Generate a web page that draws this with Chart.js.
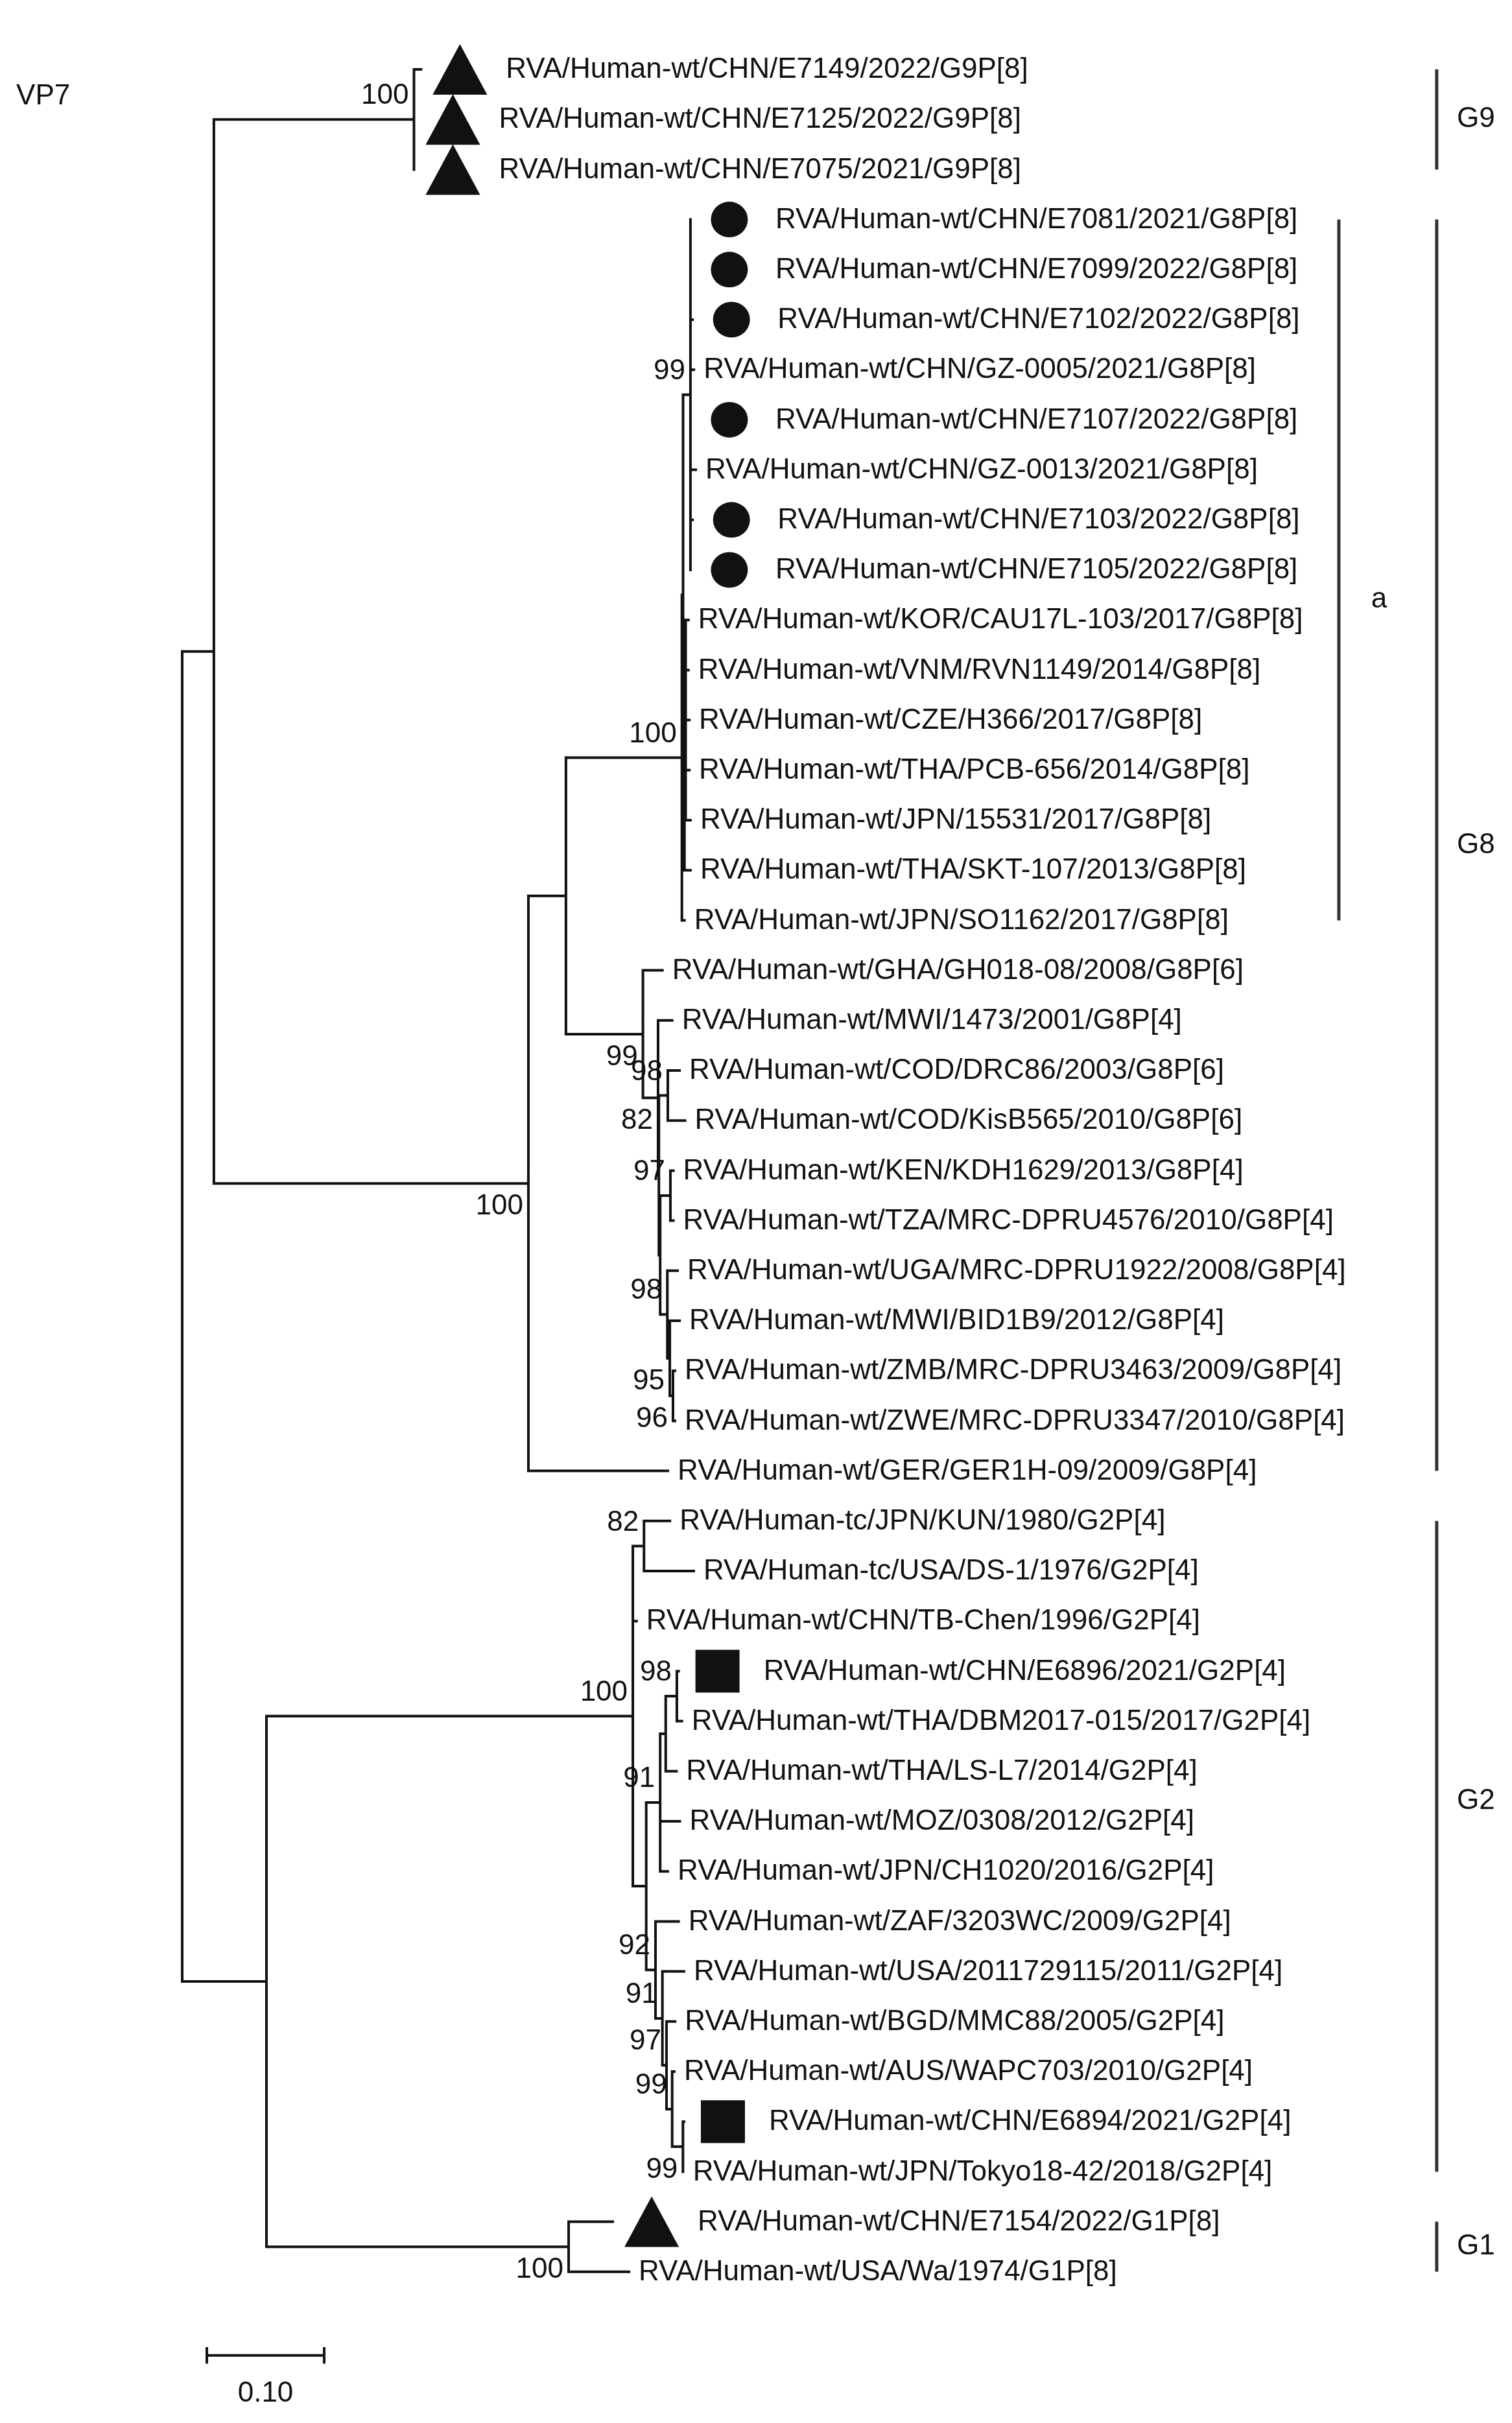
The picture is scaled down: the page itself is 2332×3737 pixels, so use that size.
<!DOCTYPE html>
<html>
<head>
<meta charset="utf-8">
<title>VP7 tree</title>
<script src="https://cdn.jsdelivr.net/npm/chart.js@4.4.0/dist/chart.umd.min.js"></script>
<style>
  html, body { margin: 0; padding: 0; background: #fff; }
  canvas { display: block; }
</style>
</head>
<body>
<canvas id="vp7-tree" width="2332" height="3737"></canvas>
<script>
//
// VP7 tree
//

// Leaves, top to bottom (row = index + 1)
var leafNames = [
	'RVA/Human-wt/CHN/E7149/2022/G9P[8]',
	'RVA/Human-wt/CHN/E7125/2022/G9P[8]',
	'RVA/Human-wt/CHN/E7075/2021/G9P[8]',
	'RVA/Human-wt/CHN/E7081/2021/G8P[8]',
	'RVA/Human-wt/CHN/E7099/2022/G8P[8]',
	'RVA/Human-wt/CHN/E7102/2022/G8P[8]',
	'RVA/Human-wt/CHN/GZ-0005/2021/G8P[8]',
	'RVA/Human-wt/CHN/E7107/2022/G8P[8]',
	'RVA/Human-wt/CHN/GZ-0013/2021/G8P[8]',
	'RVA/Human-wt/CHN/E7103/2022/G8P[8]',
	'RVA/Human-wt/CHN/E7105/2022/G8P[8]',
	'RVA/Human-wt/KOR/CAU17L-103/2017/G8P[8]',
	'RVA/Human-wt/VNM/RVN1149/2014/G8P[8]',
	'RVA/Human-wt/CZE/H366/2017/G8P[8]',
	'RVA/Human-wt/THA/PCB-656/2014/G8P[8]',
	'RVA/Human-wt/JPN/15531/2017/G8P[8]',
	'RVA/Human-wt/THA/SKT-107/2013/G8P[8]',
	'RVA/Human-wt/JPN/SO1162/2017/G8P[8]',
	'RVA/Human-wt/GHA/GH018-08/2008/G8P[6]',
	'RVA/Human-wt/MWI/1473/2001/G8P[4]',
	'RVA/Human-wt/COD/DRC86/2003/G8P[6]',
	'RVA/Human-wt/COD/KisB565/2010/G8P[6]',
	'RVA/Human-wt/KEN/KDH1629/2013/G8P[4]',
	'RVA/Human-wt/TZA/MRC-DPRU4576/2010/G8P[4]',
	'RVA/Human-wt/UGA/MRC-DPRU1922/2008/G8P[4]',
	'RVA/Human-wt/MWI/BID1B9/2012/G8P[4]',
	'RVA/Human-wt/ZMB/MRC-DPRU3463/2009/G8P[4]',
	'RVA/Human-wt/ZWE/MRC-DPRU3347/2010/G8P[4]',
	'RVA/Human-wt/GER/GER1H-09/2009/G8P[4]',
	'RVA/Human-tc/JPN/KUN/1980/G2P[4]',
	'RVA/Human-tc/USA/DS-1/1976/G2P[4]',
	'RVA/Human-wt/CHN/TB-Chen/1996/G2P[4]',
	'RVA/Human-wt/CHN/E6896/2021/G2P[4]',
	'RVA/Human-wt/THA/DBM2017-015/2017/G2P[4]',
	'RVA/Human-wt/THA/LS-L7/2014/G2P[4]',
	'RVA/Human-wt/MOZ/0308/2012/G2P[4]',
	'RVA/Human-wt/JPN/CH1020/2016/G2P[4]',
	'RVA/Human-wt/ZAF/3203WC/2009/G2P[4]',
	'RVA/Human-wt/USA/2011729115/2011/G2P[4]',
	'RVA/Human-wt/BGD/MMC88/2005/G2P[4]',
	'RVA/Human-wt/AUS/WAPC703/2010/G2P[4]',
	'RVA/Human-wt/CHN/E6894/2021/G2P[4]',
	'RVA/Human-wt/JPN/Tokyo18-42/2018/G2P[4]',
	'RVA/Human-wt/CHN/E7154/2022/G1P[8]',
	'RVA/Human-wt/USA/Wa/1974/G1P[8]'
];

// Distance from root to each leaf tip
var leafTips = [
	0.2035, 0.1975, 0.1975,
	0.4331, 0.4331, 0.4349, 0.4360, 0.4331, 0.4376, 0.4349, 0.4331,
	0.4314, 0.4314, 0.4321, 0.4321, 0.4331, 0.4331, 0.4280,
	0.4092, 0.4175, 0.4238, 0.4285, 0.4185, 0.4185, 0.4221, 0.4238, 0.4199, 0.4199,
	0.4138,
	0.4156, 0.4359, 0.3871, 0.4230, 0.4258, 0.4212, 0.4240, 0.4138,
	0.4230, 0.4276, 0.4200, 0.4193, 0.4276, 0.4270,
	0.3669, 0.3807
];

// Study strains: tri = G9/G1, dot = G8, sq = G2
var leafMarkers = [
	'tri', 'tri', 'tri',
	'dot', 'dot', 'dot', '', 'dot', '', 'dot', 'dot',
	'', '', '', '', '', '', '',
	'', '', '', '', '', '', '', '', '', '',
	'',
	'', '', '', 'sq', '', '', '', '',
	'', '', '', '', 'sq', '',
	'tri', ''
];

// Internal nodes: numbers are leaf rows, strings are other nodes
var nodeNames = ['root', 'U', 'G9', 'G8', 'S', 'a', 'a1', 'c99', 'Q', 'Q1',
	'afr', 'B', 'C', 'cod', 'D', 'kt', 'E', 'F', 'Gn',
	'GG', 'G2', 'n82', 'L', 'n91', 'X', 'n98', 'n92', 'n91b', 'n97', 'n99a', 'n99b', 'G1'];

var nodeDist = [0, 0.027, 0.1975, 0.295, 0.327, 0.4258, 0.4268, 0.4331, 0.4280, 0.4290,
	0.3926, 0.4055, 0.4062, 0.4138, 0.4073, 0.4160, 0.4134, 0.4155, 0.4182,
	0.0718, 0.3840, 0.3935, 0.3954, 0.4073, 0.4120, 0.4215, 0.4033, 0.4092, 0.4127, 0.4175, 0.4267, 0.3293];

var nodeKids = [
	['U', 'GG'], ['G9', 'G8'], [1, 2, 3], ['S', 29], ['a', 'afr'],
	['a1', 18], ['c99', 'Q'], [4, 5, 6, 7, 8, 9, 10, 11], ['Q1', 17], [12, 13, 14, 15, 16],
	[19, 'B'], [20, 'C'], ['cod', 'D'], [21, 22], ['kt', 'E'], [23, 24], [25, 'F'], [26, 'Gn'], [27, 28],
	['G2', 'G1'], ['n82', 32, 'L'], [30, 31], ['n91', 'n92'], ['X', 36, 37], ['n98', 35], [33, 34],
	[38, 'n91b'], [39, 'n97'], [40, 'n99a'], [41, 'n99b'], [42, 43], [44, 45]
];

// Bootstrap values (0 = not shown)
var nodeSupport = [0, 0, 100, 100, 0, 100, 0, 99, 0, 0,
	99, 82, 0, 98, 0, 97, 98, 95, 96,
	0, 100, 82, 0, 91, 0, 98, 92, 91, 97, 99, 99, 100];

// Bootstrap values printed under the branch instead of above it
var supportBelow = ['G8', 'afr', 'B', 'F', 'Gn', 'n99b', 'G1'];

// Genotype / lineage bars on the right
var cladeNames = ['G9', 'G8', 'a', 'G2', 'G1'];
var cladeFirst = [1, 4, 4, 30, 44];
var cladeLast = [3, 29, 18, 43, 45];
var cladeLabelRow = [2, 16.5, 11.6, 35.6, 44.5];
var cladeInner = [false, false, true, false, false];

var scaleBarLength = 0.10;
var scaleBarLabel = '0.10';
var treeTitle = 'VP7';


//
// Methods
//

var FONT = '44px "Liberation Sans", Arial, sans-serif';
var INK = '#111';

function nodeIndex(ref) {
	return nodeNames.indexOf(ref);
}

function rowOf(ref) {
	if (typeof ref === 'number') return ref;
	var kids = nodeKids[nodeIndex(ref)];
	return (rowOf(kids[0]) + rowOf(kids[kids.length - 1])) / 2;
}

function distOf(ref) {
	if (typeof ref === 'number') return leafTips[ref - 1];
	return nodeDist[nodeIndex(ref)];
}

// Rectangular branches, broken with null points
function branchPoints() {
	var pts = [];
	nodeNames.forEach(function(name, k) {
		var kids = nodeKids[k];
		var x0 = nodeDist[k];
		var ys = kids.map(rowOf);
		pts.push({x: x0, y: ys[0]}, {x: x0, y: ys[ys.length - 1]}, {x: x0, y: null});
		kids.forEach(function(c, j) {
			pts.push({x: x0, y: ys[j]}, {x: distOf(c), y: ys[j]}, {x: x0, y: null});
		});
	});
	return pts;
}

function cladeBarPoints(inner) {
	var pts = [];
	cladeNames.forEach(function(name, i) {
		if (cladeInner[i] !== inner) return;
		var bx = inner ? 0.9856 : 1.069;
		pts.push({x: bx, y: cladeFirst[i]}, {x: bx, y: cladeLast[i]}, {x: bx, y: null});
	});
	return pts;
}

function scaleBarPoints() {
	var x0 = 0.021, x1 = x0 + scaleBarLength, yb = 46.67, t = 0.14;
	return [
		{x: x0, y: yb}, {x: x1, y: yb}, {x: x0, y: null},
		{x: x0, y: yb - t}, {x: x0, y: yb + t}, {x: x0, y: null},
		{x: x1, y: yb - t}, {x: x1, y: yb + t}
	];
}

function drawMarker(ctx, kind, cx, cy) {
	ctx.beginPath();
	if (kind === 'tri') {
		ctx.moveTo(cx, cy - 39);
		ctx.lineTo(cx + 42, cy + 39);
		ctx.lineTo(cx - 42, cy + 39);
		ctx.closePath();
	} else if (kind === 'dot') {
		ctx.ellipse(cx, cy, 28.5, 27.5, 0, 0, Math.PI * 2);
	} else if (kind === 'sq') {
		ctx.rect(cx - 34, cy - 33, 68, 66);
	}
	ctx.fill();
}

// Labels, markers, bootstrap values and annotations
var treeText = {
	id: 'treeText',
	afterDatasetsDraw: function(chart) {
		var ctx = chart.ctx;
		var x = chart.scales.x;
		var y = chart.scales.y;

		ctx.save();
		ctx.font = FONT;
		ctx.fillStyle = INK;
		ctx.textBaseline = 'middle';
		ctx.textAlign = 'left';

		// Leaf names and markers
		leafNames.forEach(function(name, i) {
			var px = x.getPixelForValue(leafTips[i]);
			var py = y.getPixelForValue(i + 1);
			var m = leafMarkers[i];
			if (m) {
				drawMarker(ctx, m, px + 60, py);
				ctx.fillText(name, px + 131, py + 1);
			} else {
				ctx.fillText(name, px + 15, py + 1);
			}
		});

		// Bootstrap values
		ctx.textAlign = 'right';
		nodeNames.forEach(function(name, k) {
			if (!nodeSupport[k]) return;
			var px = x.getPixelForValue(nodeDist[k]) - 8;
			var py = y.getPixelForValue(rowOf(name));
			py += supportBelow.indexOf(name) >= 0 ? 36 : -36;
			ctx.fillText(String(nodeSupport[k]), px, py);
		});

		// Clade names
		cladeNames.forEach(function(name, i) {
			var py = y.getPixelForValue(cladeLabelRow[i]);
			if (cladeInner[i]) {
				ctx.textAlign = 'center';
				ctx.fillText(name, x.getPixelForValue(1.0199), py);
			} else {
				ctx.textAlign = 'left';
				ctx.fillText(name, x.getPixelForValue(1.0862), py);
			}
		});

		// Scale bar label and title
		ctx.textAlign = 'center';
		ctx.fillText(scaleBarLabel, x.getPixelForValue(0.021 + scaleBarLength / 2), y.getPixelForValue(47.43));
		ctx.textAlign = 'left';
		ctx.fillText(treeTitle, x.getPixelForValue(-0.1414), y.getPixelForValue(1.54));

		ctx.restore();
	}
};

var lineStyle = {
	showLine: true,
	spanGaps: false,
	pointRadius: 0,
	pointHoverRadius: 0,
	borderCapStyle: 'square',
	tension: 0
};

// Init chart
var treeChart = new Chart(document.getElementById('vp7-tree'), {
	type: 'scatter',
	data: {
		datasets: [
			Object.assign({label: 'branches', data: branchPoints(), borderColor: INK, borderWidth: 4}, lineStyle),
			Object.assign({label: 'genotypes', data: cladeBarPoints(false), borderColor: '#333', borderWidth: 5, borderCapStyle: 'butt'}, lineStyle, {borderCapStyle: 'butt'}),
			Object.assign({label: 'lineage', data: cladeBarPoints(true), borderColor: '#333', borderWidth: 5}, lineStyle, {borderCapStyle: 'butt'}),
			Object.assign({label: 'scale', data: scaleBarPoints(), borderColor: INK, borderWidth: 4}, lineStyle)
		]
	},
	options: {
		responsive: false,
		devicePixelRatio: 1,
		animation: false,
		events: [],
		layout: {padding: 0},
		plugins: {
			legend: {display: false},
			tooltip: {enabled: false}
		},
		scales: {
			x: {type: 'linear', display: false, min: -0.15525, max: 1.13315},
			y: {type: 'linear', display: false, reverse: true, min: -0.386, max: 48.021}
		}
	},
	plugins: [treeText]
});
</script>
</body>
</html>
